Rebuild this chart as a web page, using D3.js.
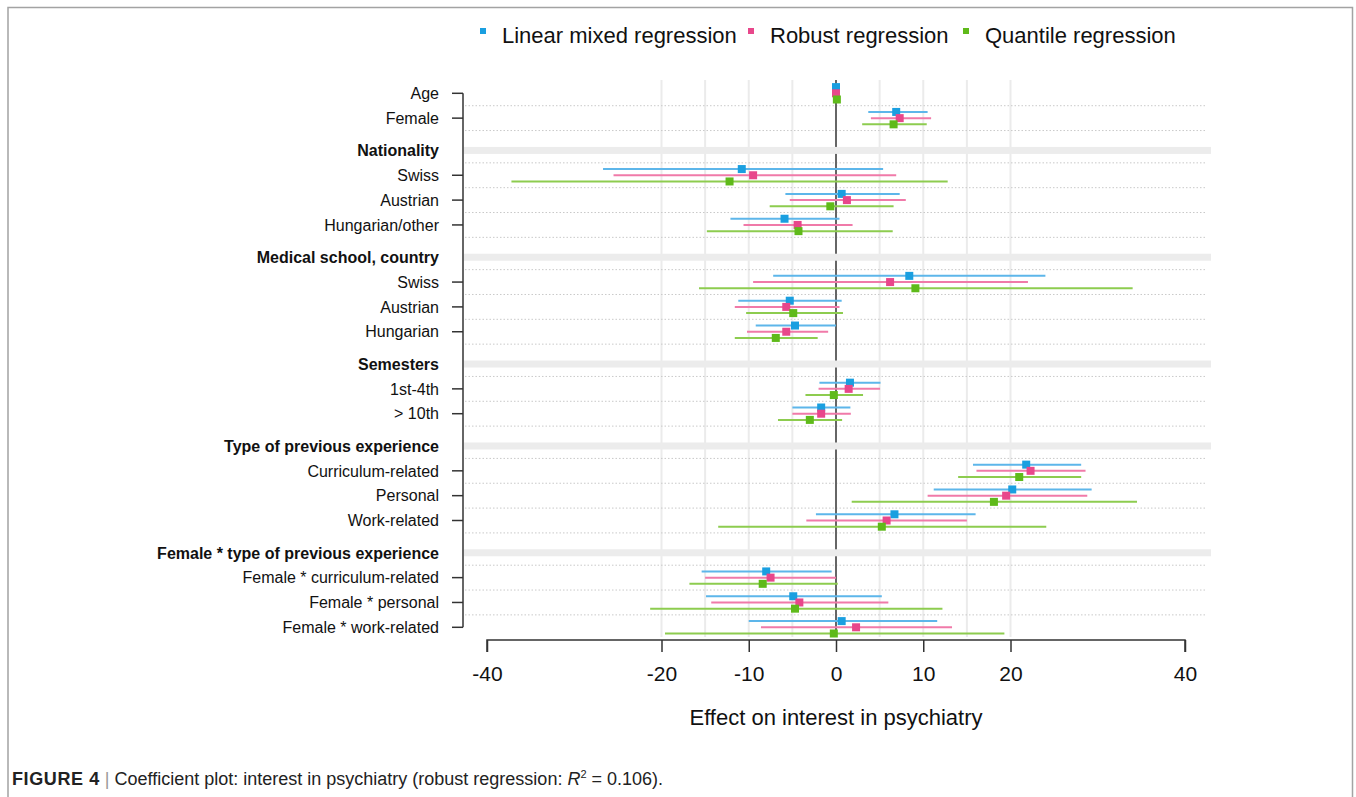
<!DOCTYPE html>
<html>
<head>
<meta charset="utf-8">
<script src="https://cdn.jsdelivr.net/npm/d3@7"></script>
<style>
  html, body { margin: 0; padding: 0; background: #fff; }
  svg { display: block; font-family: "Liberation Sans", Arial, Helvetica, sans-serif; }
</style>
</head>
<body>
<svg id="chart" width="1356" height="797"></svg>
<script>
// Row labels, top to bottom; group headers are flagged in headerRows
const rowLabels = [
  "Age", "Female",
  "Nationality", "Swiss", "Austrian", "Hungarian/other",
  "Medical school, country", "Swiss", "Austrian", "Hungarian",
  "Semesters", "1st-4th", "> 10th",
  "Type of previous experience", "Curriculum-related", "Personal", "Work-related",
  "Female * type of previous experience", "Female * curriculum-related", "Female * personal", "Female * work-related"
];
const headerRows = [
  false, false,
  true, false, false, false,
  true, false, false, false,
  true, false, false,
  true, false, false, false,
  true, false, false, false
];

// Model names
const seriesNames = ["Linear mixed regression", "Robust regression", "Quantile regression"];

// Coefficients and interval bounds per model, one value per non-header row
const linearEst = [0.0, 6.9, -10.8, 0.65, -5.9, 8.4, -5.3, -4.7, 1.6, -1.7, 21.8, 20.2, 6.7, -8.0, -4.9, 0.65];
const linearLo  = [-0.3, 3.7, -26.7, -5.8, -12.1, -7.2, -11.2, -9.2, -1.9, -5.0, 15.7, 11.2, -2.3, -15.4, -14.9, -10.0];
const linearHi  = [0.3, 10.5, 5.4, 7.3, 0.4, 24.0, 0.65, 0.0, 5.1, 1.65, 28.1, 29.3, 16.0, -0.5, 5.25, 11.6];

const robustEst = [0.0, 7.3, -9.5, 1.25, -4.4, 6.2, -5.7, -5.7, 1.45, -1.7, 22.3, 19.5, 5.8, -7.5, -4.2, 2.3];
const robustLo  = [-0.2, 4.0, -25.5, -5.3, -10.6, -9.5, -11.6, -10.2, -2.0, -5.0, 16.1, 10.5, -3.4, -15.0, -14.3, -8.6];
const robustHi  = [0.3, 10.9, 6.9, 8.0, 1.9, 22.0, 0.4, -0.9, 5.05, 1.7, 28.6, 28.8, 15.0, 0.0, 6.0, 13.3];

const quantEst = [0.1, 6.6, -12.2, -0.65, -4.3, 9.1, -4.9, -6.9, -0.25, -3.0, 21.0, 18.1, 5.25, -8.4, -4.7, -0.25];
const quantLo  = [-0.1, 3.0, -37.2, -7.6, -14.8, -15.7, -10.3, -11.6, -3.5, -6.65, 14.0, 1.8, -13.5, -16.8, -21.3, -19.6];
const quantHi  = [0.2, 10.4, 12.8, 6.6, 6.5, 34.0, 0.8, -2.1, 3.1, 0.7, 28.1, 34.5, 24.1, 0.2, 12.2, 19.3];

// X axis ticks and background grid values
const xTicks = [-40, -20, -10, 0, 10, 20, 40];
const gridValues = [-20, -15, -10, -5, 0, 5, 10, 15, 20];

const xTitle = "Effect on interest in psychiatry";

// ---- styling ----
const markColors = ["#1a9fe0", "#e8478b", "#5fba1a"];
const lineColors = ["#5db6ea", "#f07aa9", "#8dcc4f"];

const svg = d3.select("#chart");

// Row positions: headers add a little extra space before them
let pos = 0;
const rows = rowLabels.map((label, i) => {
  if (i > 0) pos += headerRows[i] ? 1.3 : 1;
  return { label, header: headerRows[i], pos };
});
const items = rows.filter(r => !r.header);

const x = d3.scaleLinear().domain([-40, 40]).range([487, 1185]);
const y = d3.scaleLinear().domain([0, d3.max(rows, r => r.pos)]).range([93.3, 627.3]);
const unit = y(1) - y(0);

const plotLeft = 463, plotTop = 80, plotBottom = 637;

// frame around the figure
svg.append("path")
  .attr("d", `M8,797 V7.5 H1352.5 V797`)
  .attr("fill", "none").attr("stroke", "#a3a3a3").attr("stroke-width", 1.5);

// vertical grid
svg.append("g").selectAll("line").data(gridValues.filter(v => v !== 0)).join("line")
  .attr("x1", d => x(d)).attr("x2", d => x(d))
  .attr("y1", plotTop).attr("y2", plotBottom)
  .attr("stroke", "#ebebeb").attr("stroke-width", 2);

// horizontal dotted separators
const sepY = [];
items.forEach((r, i) => {
  const prev = rows[rows.indexOf(r) - 1];
  if (prev && prev.header) sepY.push(y(r.pos) - unit / 2);
  if (i < items.length - 1) sepY.push(y(r.pos) + unit / 2);
});
svg.append("g").selectAll("line").data(sepY).join("line")
  .attr("x1", plotLeft + 2).attr("x2", 1207)
  .attr("y1", d => d).attr("y2", d => d)
  .attr("stroke", "#c9c9c9").attr("stroke-width", 1)
  .attr("stroke-dasharray", "1.5,2");

// zero reference line
svg.append("line")
  .attr("x1", x(0)).attr("x2", x(0))
  .attr("y1", plotTop).attr("y2", plotBottom)
  .attr("stroke", "#666").attr("stroke-width", 2);

// header bands
svg.append("g").selectAll("rect").data(rows.filter(r => r.header)).join("rect")
  .attr("x", plotLeft + 1).attr("width", 1211 - plotLeft - 1)
  .attr("y", d => y(d.pos) - 3.5).attr("height", 7)
  .attr("fill", "#ececec");

// series: error bars and point estimates
const series = [
  { est: linearEst, lo: linearLo, hi: linearHi },
  { est: robustEst, lo: robustLo, hi: robustHi },
  { est: quantEst, lo: quantLo, hi: quantHi }
];
const offsets = [-6.2, 0, 6.2];

series.forEach((s, k) => {
  const data = items.map((r, i) => ({ yy: y(r.pos) + offsets[k], est: s.est[i], lo: s.lo[i], hi: s.hi[i] }));
  const g = svg.append("g");
  g.selectAll("line").data(data).join("line")
    .attr("x1", d => x(d.lo)).attr("x2", d => x(d.hi))
    .attr("y1", d => d.yy).attr("y2", d => d.yy)
    .attr("stroke", lineColors[k]).attr("stroke-width", 2);
  g.selectAll("rect").data(data).join("rect")
    .attr("x", d => x(d.est) - 4).attr("y", d => d.yy - 4)
    .attr("width", 8).attr("height", 8)
    .attr("fill", markColors[k]);
});

// left axis: line spanning the items, ticks at each item
const axisColor = "#333";
svg.append("line")
  .attr("x1", plotLeft).attr("x2", plotLeft)
  .attr("y1", y(items[0].pos)).attr("y2", y(items[items.length - 1].pos))
  .attr("stroke", axisColor).attr("stroke-width", 1.5);
svg.append("g").selectAll("line").data(items).join("line")
  .attr("x1", plotLeft - 11).attr("x2", plotLeft)
  .attr("y1", d => y(d.pos)).attr("y2", d => y(d.pos))
  .attr("stroke", axisColor).attr("stroke-width", 1.5);
svg.append("g").selectAll("text").data(rows).join("text")
  .attr("x", 439).attr("y", d => y(d.pos))
  .attr("dy", "0.36em")
  .attr("text-anchor", "end")
  .attr("font-size", 16)
  .attr("font-weight", d => d.header ? "bold" : "normal")
  .attr("fill", "#111")
  .text(d => d.label);

// bottom axis
const xAxis = svg.append("g")
  .attr("transform", `translate(0,640)`)
  .call(d3.axisBottom(x).tickValues(xTicks).tickSize(12).tickPadding(14).tickFormat(d3.format("d")));
xAxis.select(".domain").attr("stroke", axisColor).attr("stroke-width", 1.5)
  .attr("d", `M${x(-40)},12V0H${x(40)}V12`);
xAxis.selectAll(".tick line").attr("stroke", axisColor).attr("stroke-width", 1.5);
xAxis.selectAll(".tick text")
  .attr("font-size", 21).attr("fill", "#111")
  .attr("font-family", "Liberation Sans, Arial, sans-serif")
  .text(d => d < 0 ? "-" + Math.abs(d) : d);

svg.append("text")
  .attr("x", x(0)).attr("y", 725)
  .attr("text-anchor", "middle")
  .attr("font-size", 22).attr("fill", "#111")
  .text(xTitle);

// legend
const legendX = [483, 751, 966];
const legend = svg.append("g").selectAll("g").data(seriesNames).join("g");
legend.append("rect")
  .attr("x", (d, i) => legendX[i] - 3).attr("y", 28)
  .attr("width", 6).attr("height", 6)
  .attr("fill", (d, i) => markColors[i]);
legend.append("text")
  .attr("x", (d, i) => legendX[i] + 19).attr("y", 35)
  .attr("dy", "0.36em")
  .attr("font-size", 22).attr("fill", "#111")
  .text(d => d);

// caption
const cap = svg.append("text")
  .attr("x", 12).attr("y", 785)
  .attr("font-size", 18).attr("fill", "#222");
cap.append("tspan").attr("font-weight", "bold").attr("letter-spacing", "0.6").text("FIGURE 4");
cap.append("tspan").attr("fill", "#999").text(" | ");
cap.append("tspan").text("Coefficient plot: interest in psychiatry (robust regression: ");
cap.append("tspan").attr("font-style", "italic").text("R");
cap.append("tspan").attr("font-size", 11).attr("dy", -7).text("2");
cap.append("tspan").attr("dy", 7).text(" = 0.106).");
</script>
</body>
</html>
